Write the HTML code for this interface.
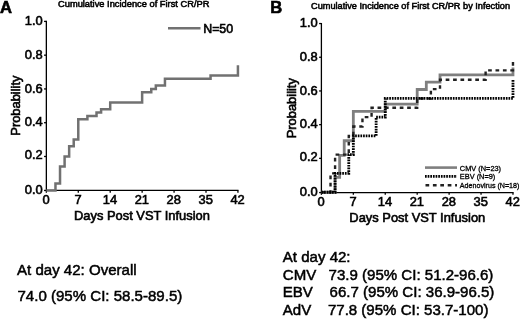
<!DOCTYPE html>
<html><head><meta charset="utf-8"><style>
html,body{margin:0;padding:0;background:#fff;width:520px;height:319px;overflow:hidden}
svg{display:block;will-change:transform}
text{font-family:"Liberation Sans", sans-serif;fill:#000;stroke:#000;stroke-width:0.35px}
.t{font-size:12.9px;stroke-width:0.6px}
.ti{font-size:9.3px;stroke-width:0.55px}
.lab{font-size:16.6px;font-weight:bold;stroke-width:0.6px}
.lg{font-size:7.4px;stroke-width:0.3px}
.bt{font-size:15.05px;stroke-width:0.5px}
</style></head><body>
<svg width="520" height="319" viewBox="0 0 520 319">
<rect width="520" height="319" fill="#fff"/>
<text x="-0.1" y="13" class="lab">A</text>
<text x="58" y="6.8" class="ti">Cumulative Incidence of First CR/PR</text>
<path d="M46.35,20.80 V190.45 H238.53" fill="none" stroke="#000" stroke-width="1.3"/>
<line x1="44.05" y1="190.45" x2="46.35" y2="190.45" stroke="#000" stroke-width="1.3"/>
<text x="42.75" y="193.6" text-anchor="end" class="t">0.0</text>
<line x1="44.05" y1="156.48" x2="46.35" y2="156.48" stroke="#000" stroke-width="1.3"/>
<text x="42.75" y="159.4" text-anchor="end" class="t">0.2</text>
<line x1="44.05" y1="122.71" x2="46.35" y2="122.71" stroke="#000" stroke-width="1.3"/>
<text x="42.75" y="126" text-anchor="end" class="t">0.4</text>
<line x1="44.05" y1="88.94" x2="46.35" y2="88.94" stroke="#000" stroke-width="1.3"/>
<text x="42.75" y="92.6" text-anchor="end" class="t">0.6</text>
<line x1="44.05" y1="55.17" x2="46.35" y2="55.17" stroke="#000" stroke-width="1.3"/>
<text x="42.75" y="58.6" text-anchor="end" class="t">0.8</text>
<line x1="44.05" y1="21.40" x2="46.35" y2="21.40" stroke="#000" stroke-width="1.3"/>
<text x="42.75" y="25" text-anchor="end" class="t">1.0</text>
<line x1="46.35" y1="190.45" x2="46.35" y2="192.75" stroke="#000" stroke-width="1.3"/>
<text x="46.05" y="204.0" text-anchor="middle" class="t">0</text>
<line x1="78.28" y1="190.45" x2="78.28" y2="192.75" stroke="#000" stroke-width="1.3"/>
<text x="77.98" y="204.0" text-anchor="middle" class="t">7</text>
<line x1="110.21" y1="190.45" x2="110.21" y2="192.75" stroke="#000" stroke-width="1.3"/>
<text x="109.91" y="204.0" text-anchor="middle" class="t">14</text>
<line x1="142.14" y1="190.45" x2="142.14" y2="192.75" stroke="#000" stroke-width="1.3"/>
<text x="141.84" y="204.0" text-anchor="middle" class="t">21</text>
<line x1="174.07" y1="190.45" x2="174.07" y2="192.75" stroke="#000" stroke-width="1.3"/>
<text x="173.77" y="204.0" text-anchor="middle" class="t">28</text>
<line x1="206.00" y1="190.45" x2="206.00" y2="192.75" stroke="#000" stroke-width="1.3"/>
<text x="205.70" y="204.0" text-anchor="middle" class="t">35</text>
<line x1="237.93" y1="190.45" x2="237.93" y2="192.75" stroke="#000" stroke-width="1.3"/>
<text x="237.63" y="204.0" text-anchor="middle" class="t">42</text>
<text x="142" y="220.4" text-anchor="middle" class="t">Days Post VST Infusion</text>
<text transform="translate(20.4,105.6) rotate(-90)" text-anchor="middle" class="t">Probability</text>
<path d="M46.35,190.45 H55.47 V183.50 H60.03 V166.61 H64.60 V156.48 H69.16 V146.35 H73.72 V139.59 H78.28 V119.33 H87.40 V115.96 H96.53 V112.58 H101.09 V109.20 H110.21 V102.45 H142.14 V92.32 H151.26 V88.94 H155.83 V85.56 H164.95 V78.81 H210.56 V75.43 H237.93 V65.30" fill="none" stroke="#717171" stroke-width="2.5"/>
<line x1="168" y1="28.3" x2="200.5" y2="28.3" stroke="#717171" stroke-width="2.5"/>
<text x="203.2" y="32.8" class="t" style="font-size:12.4px">N=50</text>
<text x="270.3" y="13" class="lab">B</text>
<text x="311" y="8.5" class="ti" textLength="199" lengthAdjust="spacingAndGlyphs">Cumulative Incidence of First CR/PR by Infection</text>
<path d="M321.4,22.95 V192.55 H513.58" fill="none" stroke="#000" stroke-width="1.3"/>
<line x1="319.10" y1="192.55" x2="321.4" y2="192.55" stroke="#000" stroke-width="1.3"/>
<text x="317.75" y="195.6" text-anchor="end" class="t">0.0</text>
<line x1="319.10" y1="158.35" x2="321.4" y2="158.35" stroke="#000" stroke-width="1.3"/>
<text x="317.75" y="161.4" text-anchor="end" class="t">0.2</text>
<line x1="319.10" y1="124.65" x2="321.4" y2="124.65" stroke="#000" stroke-width="1.3"/>
<text x="317.75" y="128" text-anchor="end" class="t">0.4</text>
<line x1="319.10" y1="90.95" x2="321.4" y2="90.95" stroke="#000" stroke-width="1.3"/>
<text x="317.75" y="94.6" text-anchor="end" class="t">0.6</text>
<line x1="319.10" y1="57.25" x2="321.4" y2="57.25" stroke="#000" stroke-width="1.3"/>
<text x="317.75" y="60.6" text-anchor="end" class="t">0.8</text>
<line x1="319.10" y1="23.55" x2="321.4" y2="23.55" stroke="#000" stroke-width="1.3"/>
<text x="317.75" y="27" text-anchor="end" class="t">1.0</text>
<line x1="321.40" y1="192.55" x2="321.40" y2="194.85" stroke="#000" stroke-width="1.3"/>
<text x="321.10" y="206.0" text-anchor="middle" class="t">0</text>
<line x1="353.33" y1="192.55" x2="353.33" y2="194.85" stroke="#000" stroke-width="1.3"/>
<text x="353.03" y="206.0" text-anchor="middle" class="t">7</text>
<line x1="385.26" y1="192.55" x2="385.26" y2="194.85" stroke="#000" stroke-width="1.3"/>
<text x="384.96" y="206.0" text-anchor="middle" class="t">14</text>
<line x1="417.19" y1="192.55" x2="417.19" y2="194.85" stroke="#000" stroke-width="1.3"/>
<text x="416.89" y="206.0" text-anchor="middle" class="t">21</text>
<line x1="449.12" y1="192.55" x2="449.12" y2="194.85" stroke="#000" stroke-width="1.3"/>
<text x="448.82" y="206.0" text-anchor="middle" class="t">28</text>
<line x1="481.05" y1="192.55" x2="481.05" y2="194.85" stroke="#000" stroke-width="1.3"/>
<text x="480.75" y="206.0" text-anchor="middle" class="t">35</text>
<line x1="512.98" y1="192.55" x2="512.98" y2="194.85" stroke="#000" stroke-width="1.3"/>
<text x="512.68" y="206.0" text-anchor="middle" class="t">42</text>
<text x="417.3" y="221.9" text-anchor="middle" class="t">Days Post VST Infusion</text>
<text transform="translate(295.6,108.2) rotate(-90)" text-anchor="middle" class="t">Probability</text>
<path d="M321.40,192.25 H335.08 V177.40 H339.65 V155.42 H344.21 V140.77 H353.33 V111.46 H385.26 V104.14 H417.19 V89.48 H426.31 V82.16 H440.00 V74.83 H512.98 V67.51" fill="none" stroke="#7f7f7f" stroke-width="2.8"/>
<path d="M321.40,192.25 H330.52 V173.33 H335.08 V154.61 H348.77 V135.88 H353.33 V126.52 H362.45 V117.16 H371.58 V107.80 H417.19 V98.44 H430.88 V89.08 H440.00 V79.72 H485.61 V70.36 H512.98 V60.99" fill="none" stroke="#222" stroke-width="2.4" stroke-dasharray="3.7 3.7"/>
<path d="M321.40,192.25 H335.08 V173.33 H348.77 V154.61 H353.33 V135.88 H376.14 V117.16 H385.26 V98.44 H512.98 V79.72" fill="none" stroke="#000" stroke-width="2.8" stroke-dasharray="1.7 0.95"/>
<line x1="425" y1="167.6" x2="457" y2="167.6" stroke="#7f7f7f" stroke-width="2.6"/>
<line x1="425" y1="176.4" x2="457" y2="176.4" stroke="#000" stroke-width="2.8" stroke-dasharray="1.7 0.95"/>
<line x1="425.5" y1="185.2" x2="457" y2="185.2" stroke="#222" stroke-width="2.4" stroke-dasharray="3.7 3.7"/>
<text x="459.8" y="170.6" class="lg">CMV (N=23)</text>
<text x="459.8" y="179.3" class="lg">EBV (N=9)</text>
<text x="459.8" y="187.8" class="lg" textLength="59.6" lengthAdjust="spacingAndGlyphs">Adenovirus (N=18)</text>
<text x="17" y="275" class="bt">At day 42: Overall</text>
<text x="17.5" y="301.3" class="bt">74.0 (95% CI: 58.5-89.5)</text>
<text x="282.8" y="261.9" class="bt">At day 42:</text>
<text x="282.8" y="279.7" class="bt">CMV</text>
<text x="328.6" y="279.7" class="bt">73.9 (95% CI: 51.2-96.6)</text>
<text x="282.8" y="297.1" class="bt">EBV</text>
<text x="329.6" y="297.1" class="bt">66.7 (95% CI: 36.9-96.5)</text>
<text x="282.8" y="314.9" class="bt">AdV</text>
<text x="327.9" y="314.9" class="bt">77.8 (95% CI: 53.7-100)</text>
</svg>
</body></html>
